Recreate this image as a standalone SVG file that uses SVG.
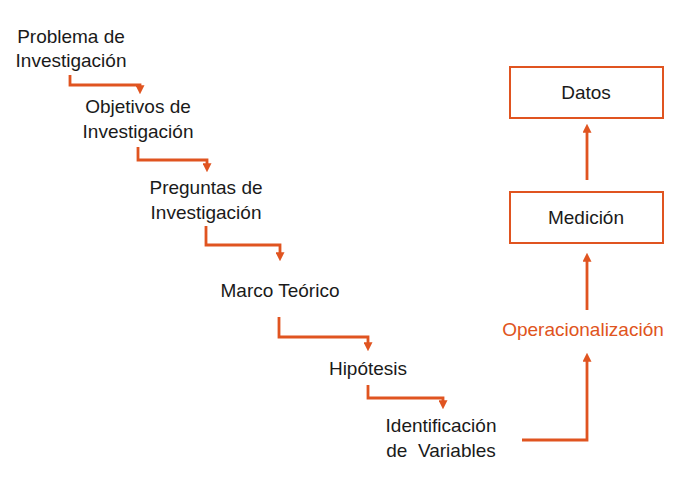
<svg xmlns="http://www.w3.org/2000/svg" width="677" height="494" viewBox="0 0 677 494">
<style>
text{font-family:"Liberation Sans",Arial,sans-serif;font-size:19px;fill:#1a1a1a;text-anchor:middle}
.o{fill:#E05420}
.c{fill:none;stroke:#E05420;stroke-width:2.8}
.b{fill:#fff;stroke:#E05420;stroke-width:2}
</style>
<defs>
<marker id="ah" viewBox="0 0 10 10" refX="3" refY="5" markerWidth="9" markerHeight="9" orient="auto-start-reverse" markerUnits="userSpaceOnUse">
<path d="M0,0L10,5L0,10z" fill="#E05420"/>
</marker>
</defs>
<rect width="677" height="494" fill="#fff"/>
<g id="connectors">
<path class="c" d="M70,75V85H140V88" marker-end="url(#ah)"/>
<path class="c" d="M138,147V160H207V166" marker-end="url(#ah)"/>
<path class="c" d="M206,226V245H280V255" marker-end="url(#ah)"/>
<path class="c" d="M279,317V337H368V345" marker-end="url(#ah)"/>
<path class="c" d="M368,385V398H443V403" marker-end="url(#ah)"/>
<path class="c" d="M522,440H587V359" marker-end="url(#ah)"/>
<path class="c" d="M587,310V259" marker-end="url(#ah)"/>
<path class="c" d="M587,180V130" marker-end="url(#ah)"/>
</g>
<g id="n1"><text x="71" y="43">Problema de</text><text x="71" y="67">Investigación</text></g>
<g id="n2"><text x="138" y="113">Objetivos de</text><text x="138" y="138">Investigación</text></g>
<g id="n3"><text x="206" y="194">Preguntas de</text><text x="206" y="219">Investigación</text></g>
<g id="n4"><text x="280" y="297">Marco Teórico</text></g>
<g id="n5"><text x="368" y="375">Hipótesis</text></g>
<g id="n6"><text x="441" y="432">Identificación</text><text x="441" y="457" xml:space="preserve">de  Variables</text></g>
<g id="n7"><text class="o" x="583" y="336">Operacionalización</text></g>
<g id="n8"><rect class="b" x="510" y="192" width="153" height="51"/><text x="586" y="224">Medición</text></g>
<g id="n9"><rect class="b" x="510" y="67" width="153" height="51"/><text x="586" y="99">Datos</text></g>
</svg>
